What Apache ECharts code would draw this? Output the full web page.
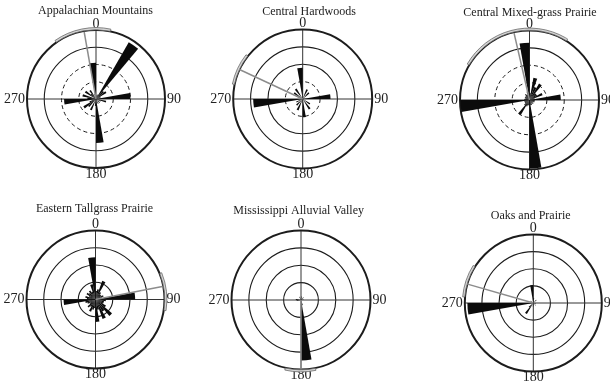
<!DOCTYPE html>
<html><head><meta charset="utf-8">
<script src="https://cdn.jsdelivr.net/npm/echarts@6/dist/echarts.min.js"></script>
<style>html,body{margin:0;padding:0;background:#fff}#c{width:610px;height:388px}</style>
</head><body><div id="c"></div>
<script>
const titles = ['Appalachian Mountains','Central Hardwoods','Central Mixed-grass Prairie','Eastern Tallgrass Prairie','Mississippi Alluvial Valley','Oaks and Prairie'];
const tickLabels = ['0','90','180','270'];
const binStarts = [0,10,20,30,40,50,60,70,80,90,100,110,120,130,140,150,160,170,180,190,200,210,220,230,240,250,260,270,280,290,300,310,320,330,340,350];

const appalachian = [0.2,0,0.3,3.8,0.6,0.7,0.3,0,2.0,0,0.6,0.3,0,0.3,0,0.3,0,2.55,0.4,0,0.7,0,0.6,0.85,0.4,0,1.85,0.5,0.8,0,0.75,0.4,0.6,0,0.3,2.1];
const centralHardwoods = [0,0,0.6,0,0.5,0,0,0,1.6,0,0,0,0.5,0,0.7,0,0,1.05,0,0,0.7,0,0.5,0,0.4,0,2.85,0,0,0.4,0.6,0,0.7,0,0,1.8];
const centralMixedGrass = [0.4,1.3,0.8,1.1,0.5,0.5,0.8,0.3,1.8,0.3,0.3,0.3,0.2,0.3,0.2,0.3,0.3,3.94,0.3,0.3,0.4,1.0,0.4,0.3,0.3,0.3,3.98,0.3,0.2,0.3,0.3,0.3,0.4,0.3,0.5,3.3];
const easternTallgrass = [0.5,0.6,1.15,0.5,0.4,0.4,0.5,0.4,2.3,0.6,0.5,0.5,0.7,1.25,0.8,1.2,0.6,1.3,0.5,0.6,0.75,0.5,0.6,0.4,0.5,0.6,1.85,0.5,0.6,0.4,0.6,0.5,0.6,0.5,0.9,2.45];
const mississippiAlluvial = [0.2,0,0,0,0.2,0,0,0,0.15,0,0,0,0,0,0,0,0.3,3.48,0,0,0,0,0,0,0,0,0.25,0.3,0,0,0,0,0,0.2,0,0];
const oaksPrairie = [0.3,0,0,0,0.25,0,0,0,0,0.15,0,0,0,0.2,0,0,0,0,0.2,0,0,0.75,0.35,0,0,0,3.85,0,0,0,0.2,0,0,0,0,1.05];

const meanAngle = [350, 295, 347, 79, 180, 286];
const meanLength = [3.95, 4.05, 3.95, 3.95, 4.0, 4.1];
const ciLow = [325, 282, 300, 68, 168, 275];
const ciHigh = [12, 308, 32, 99, 193, 302];

const panels = [appalachian, centralHardwoods, centralMixedGrass, easternTallgrass, mississippiAlluvial, oaksPrairie];

const layout = [
  {cx:96, cy:99, r:69, tx:95.5, ty:5, rings:['dashed','dashed']},
  {cx:302.7, cy:99, r:69.5, tx:309, ty:6, rings:['dashed','solid']},
  {cx:529.5, cy:100, r:69.5, tx:530, ty:7, rings:['dashed','dashed']},
  {cx:95.5, cy:299.5, r:69, tx:94.5, ty:203, rings:['solid','solid']},
  {cx:301, cy:300, r:69.5, tx:298.7, ty:205, rings:['solid','solid']},
  {cx:533.3, cy:303, r:68.5, tx:530.7, ty:210, rings:['solid','solid']}
];

const T = 'rgba(0,0,0,0)', INK = '#1c1c1c';
const FONT = "'Liberation Serif', 'DejaVu Serif', serif";

function renderMean(params, api) {
  const c = api.coord([0, 0]);
  const tip = api.coord([api.value(0), api.value(1)]);
  const a = api.coord([4, api.value(2)]);
  const b = api.coord([4, api.value(3)]);
  const R = Math.hypot(a[0] - c[0], a[1] - c[1]);
  const s = Math.atan2(a[1] - c[1], a[0] - c[0]);
  let e = Math.atan2(b[1] - c[1], b[0] - c[0]);
  if (e < s) e += Math.PI * 2;
  return {type: 'group', children: [
    {type: 'line', shape: {x1: c[0], y1: c[1], x2: tip[0], y2: tip[1]}, style: {stroke: '#8c8c8c', lineWidth: 1.5}},
    {type: 'sector', shape: {cx: c[0], cy: c[1], r0: R + 0.3, r: R + 2.4, startAngle: s, endAngle: e, clockwise: true},
     style: {fill: '#d6d6d6', stroke: '#6a6a6a', lineWidth: 0.8}}
  ]};
}

const polar = [], angleAxis = [], radiusAxis = [], series = [], title = [];
panels.forEach((vals, k) => {
  const L = layout[k];
  const base = polar.length;
  for (let j = 0; j < 3; j++) polar.push({center: [L.cx, L.cy], radius: L.r});
  title.push({text: titles[k], left: L.tx, top: L.ty, textAlign: 'center', padding: 0,
    textStyle: {fontFamily: FONT, fontSize: 12, fontWeight: 'normal', color: '#222'}});
  angleAxis.push({polarIndex: base, type: 'value', min: 0, max: 360, interval: 90, startAngle: 90, clockwise: true,
    axisLine: {show: true, lineStyle: {color: INK, width: 2}},
    axisTick: {show: false},
    axisLabel: {show: true, margin: 2, color: '#222', fontFamily: FONT, fontSize: 14, lineHeight: 8,
      formatter: v => (v % 360 === 0 && v !== 0) ? '' : tickLabels[Math.round(v / 90)]},
    splitLine: {show: true, lineStyle: {color: '#333', width: 1}}});
  radiusAxis.push({polarIndex: base, type: 'value', min: 0, max: 4, interval: 1,
    axisLine: {show: false}, axisTick: {show: false}, axisLabel: {show: false},
    splitLine: {show: true, lineStyle: {width: 1.1, color: [T, L.rings[0] === 'solid' ? INK : T, L.rings[1] === 'solid' ? INK : T, INK, T]}}});
  angleAxis.push({polarIndex: base + 1, type: 'value', min: 0, max: 360, startAngle: 90, show: false});
  radiusAxis.push({polarIndex: base + 1, type: 'value', min: 0, max: 4, interval: 1,
    axisLine: {show: false}, axisTick: {show: false}, axisLabel: {show: false},
    splitLine: {show: true, lineStyle: {width: 1, type: [4, 3], color: [T, L.rings[0] === 'dashed' ? INK : T, L.rings[1] === 'dashed' ? INK : T, T, T]}}});
  angleAxis.push({polarIndex: base + 2, type: 'category', data: binStarts, startAngle: 90, clockwise: true, boundaryGap: true, show: false});
  radiusAxis.push({polarIndex: base + 2, type: 'value', min: 0, max: 4, show: false});
  series.push({type: 'bar', coordinateSystem: 'polar', polarIndex: base + 2, data: vals,
    barCategoryGap: '0%', barGap: '0%', itemStyle: {color: '#0b0b0b'}, silent: true});
  series.push({type: 'custom', coordinateSystem: 'polar', polarIndex: base, z: 5, silent: true,
    data: [[meanLength[k], meanAngle[k], ciLow[k], ciHigh[k]]],
    encode: {radius: 0, angle: 1}, renderItem: renderMean});
});

const chart = echarts.init(document.getElementById('c'), null, {renderer: 'canvas'});
chart.setOption({animation: false, backgroundColor: '#fff', title, polar, angleAxis, radiusAxis, series});
</script>
</body></html>
